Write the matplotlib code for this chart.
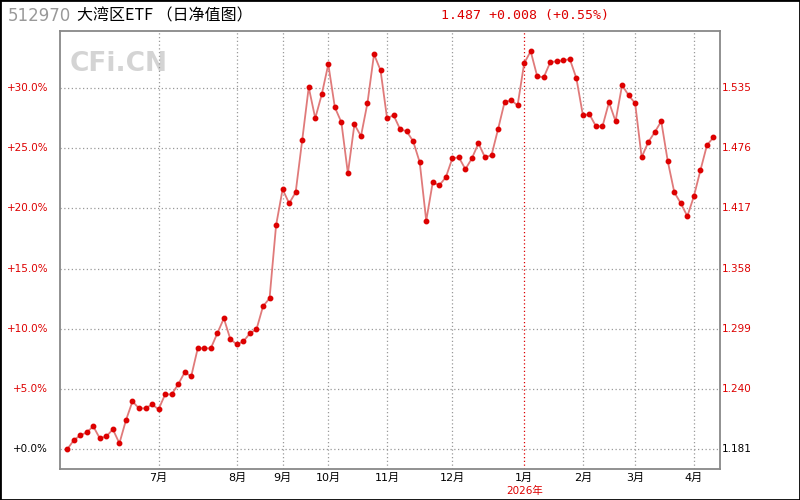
"""
512970 大湾区ETF 日净值图 (Nachbau)
"""

import matplotlib
matplotlib.use('Agg')
import matplotlib.pyplot as plt
from matplotlib.patches import Rectangle

plt.rcParams['font.family'] = ['DejaVu Sans', 'Noto Sans CJK SC']

# Daten: Zuwachs gegenüber Startwert in Prozent (Index = Handelspunkt)
pct_change = [
    0.00, 0.75, 1.16, 1.41, 1.91, 0.91, 1.08, 1.66, 0.50, 2.41,
    3.98, 3.40, 3.40, 3.73, 3.32, 4.56, 4.56, 5.39, 6.39, 6.06,
    8.38, 8.38, 8.38, 9.63, 10.87, 9.13, 8.71, 8.96, 9.63, 9.96,
    11.87, 12.53, 18.59, 21.58, 20.41, 21.33, 25.64, 30.04, 27.47, 29.46,
    31.95, 28.38, 27.14, 22.90, 26.97, 25.98, 28.74, 32.78, 31.45, 27.47,
    27.72, 26.56, 26.39, 25.56, 23.82, 18.97, 22.16, 21.91, 22.57, 24.15,
    24.23, 23.24, 24.15, 25.39, 24.23, 24.40, 26.56, 28.80, 28.96, 28.55,
    32.03, 33.03, 30.95, 30.87, 32.12, 32.20, 32.28, 32.37, 30.79, 27.72,
    27.80, 26.80, 26.80, 28.80, 27.22, 30.21, 29.38, 28.71, 24.23, 25.48,
    26.31, 27.22, 23.90, 21.33, 20.41, 19.34, 21.00, 23.15, 25.23, 25.89,
]

# Monatsanfänge (Index des ersten Punktes im Monat)
month_idx = [14, 26, 33, 40, 49, 59, 70, 79, 87, 96]
month_labels = ['7月', '8月', '9月', '10月', '11月', '12月', '1月', '2月', '3月', '4月']
year_idx = 70
year_label = '2026年'

pct_ticks = [0, 5, 10, 15, 20, 25, 30]
pct_labels = ['+0.0%', '+5.0%', '+10.0%', '+15.0%', '+20.0%', '+25.0%', '+30.0%']
nav_labels = ['1.181', '1.240', '1.299', '1.358', '1.417', '1.476', '1.535']

RED = '#dd0000'
GRID = '#999999'

fig = plt.figure(figsize=(8, 5), dpi=100)
ax = fig.add_axes([0.075, 0.062, 0.825, 0.876])

x = list(range(len(pct_change)))
ax.plot(x, pct_change, color='#e07a7a', linewidth=1.3, zorder=3)
ax.plot(x, pct_change, linestyle='none', marker='o', markersize=3.2,
        color=RED, zorder=4)

ax.set_xlim(-1.1, 100.0)
ax.set_ylim(-1.63, 34.71)

# Gitter
for yv in pct_ticks:
    ax.axhline(yv, color=GRID, linestyle=(0, (1, 2)), linewidth=0.9, zorder=1)
for xi in month_idx:
    c = RED if xi == year_idx else GRID
    ax.axvline(xi, color=c, linestyle=(0, (1, 2)), linewidth=0.9, zorder=1)

ax.set_xticks([])
ax.set_yticks([])
for s in ax.spines.values():
    s.set_color('#888888')
    s.set_linewidth(1.3)

# Achsenbeschriftungen links / rechts
for yv, lab, nav in zip(pct_ticks, pct_labels, nav_labels):
    c = 'black' if yv == 0 else RED
    ax.text(-0.018, yv, lab, transform=ax.get_yaxis_transform(),
            ha='right', va='center', fontsize=7.5, color=c)
    ax.text(1.003, yv, nav, transform=ax.get_yaxis_transform(),
            ha='left', va='center', fontsize=7.5, color=c)

for xi, lab in zip(month_idx, month_labels):
    ax.text(xi, -0.02, lab, transform=ax.get_xaxis_transform(),
            ha='center', va='center', fontsize=8, color='black')
ax.text(year_idx, -0.05, year_label, transform=ax.get_xaxis_transform(),
        ha='center', va='center', fontsize=7.5, color=RED)

# Wasserzeichen
ax.text(0.015, 0.925, 'CFi.CN', transform=ax.transAxes, fontsize=19,
        fontweight='bold', color='#d4d4d4', ha='left', va='center', zorder=0)

# Titelzeile
fig.text(0.01, 0.968, '512970', fontsize=12, color='#999999', ha='left', va='center')
fig.text(0.096, 0.968, '大湾区ETF （日净值图）', fontsize=11.5, color='black',
         ha='left', va='center', family=['Noto Sans CJK SC', 'DejaVu Sans'])
fig.text(0.551, 0.968, '1.487 +0.008 (+0.55%)', fontsize=9.5, color=RED,
         ha='left', va='center', family='DejaVu Sans Mono')

# Rahmen um das Bild
fig.patches.append(Rectangle((0, 0), 1, 1, transform=fig.transFigure,
                             fill=False, edgecolor='black', linewidth=2))

plt.savefig('out.png', dpi=100)
